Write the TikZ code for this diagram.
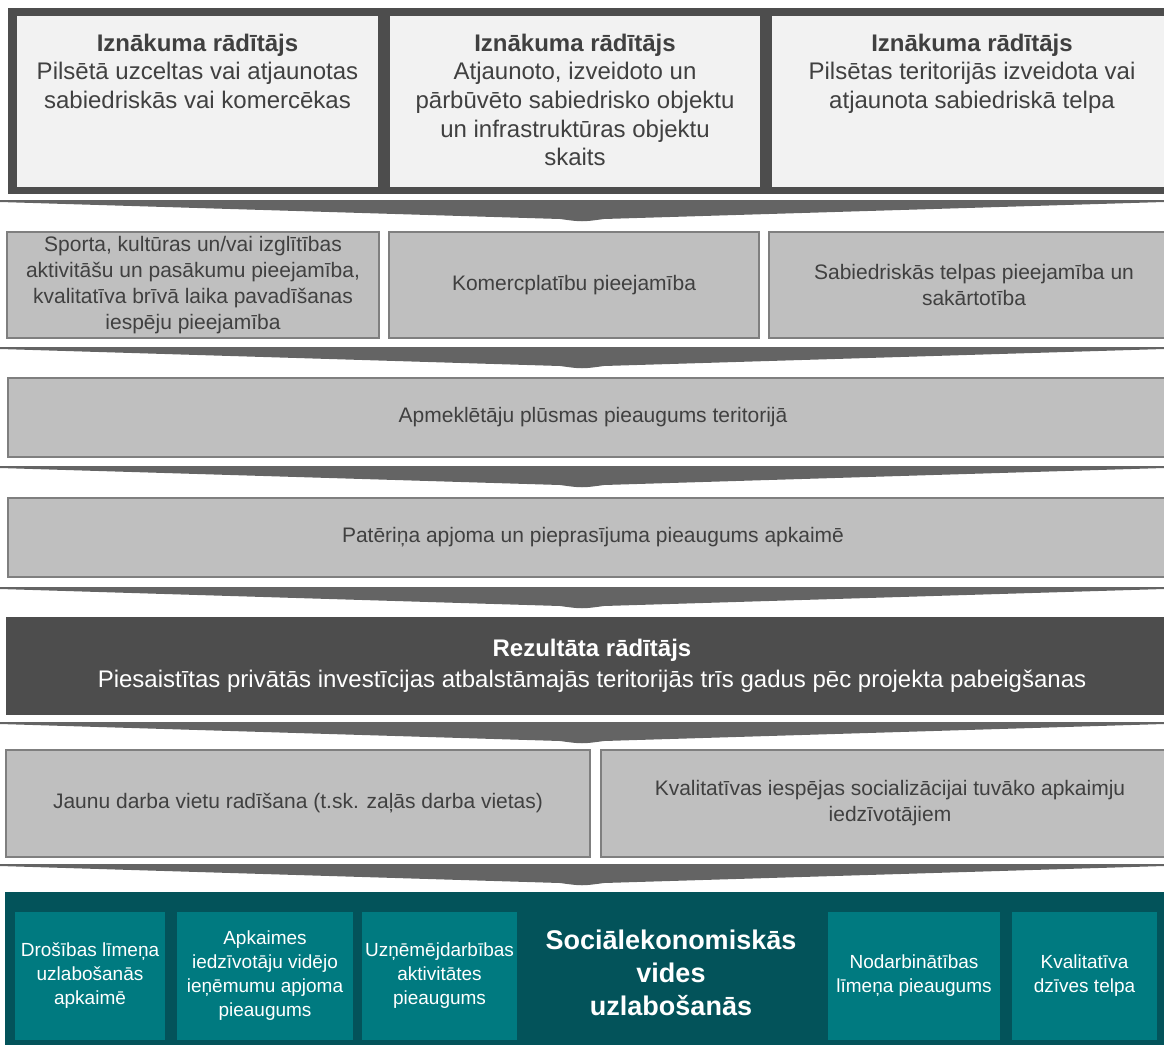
\documentclass[tikz,border=0pt]{standalone}
\usepackage{fontspec}
\setmainfont{Liberation Sans}
\usetikzlibrary{positioning}
\definecolor{framegray}{HTML}{4D4D4D}
\definecolor{lightbox}{HTML}{F2F2F2}
\definecolor{midbox}{HTML}{BFBFBF}
\definecolor{midline}{HTML}{7F7F7F}
\definecolor{txtgray}{HTML}{404040}
\definecolor{chevgray}{HTML}{646464}
\definecolor{tealdark}{HTML}{03535A}
\definecolor{teallight}{HTML}{007A80}
\newcommand{\chev}[1]{\fill[chevfill] (0,#1) -- (1180,#1) -- (1164,#1+2) -- (604,#1+19) .. controls (582,#1+22) .. (560,#1+19) -- (0,#1+2) -- cycle;}

\begin{document}
\begin{tikzpicture}[x=0.5pt, y=-0.5pt, node distance=6pt, inner sep=0pt, outer sep=0pt,
  frame/.style = {fill=framegray, anchor=north west},
  outbox/.style = {fill=lightbox, minimum height=85.5pt},
  outtxt/.style = {text=txtgray, align=center, font=\fontsize{12}{14.3}\selectfont},
  effbox/.style = {fill=midbox, draw=midline, line width=0.8pt, text=txtgray, align=center, font=\fontsize{10.5}{13}\selectfont},
  resbox/.style = {fill=framegray, text=white, align=center, anchor=north west, font=\fontsize{12}{15.5}\selectfont},
  socbox/.style = {fill=teallight, text=white, align=center, anchor=north west, minimum height=64pt, font=\fontsize{9.5}{12}\selectfont},
  chevfill/.style = {fill=chevgray}]
\useasboundingbox (0,0) rectangle (1164,1045);

\node[frame, minimum width=586pt, minimum height=93pt] (fr) at (8,8) {};
\node[outbox, anchor=north west, minimum width=180.5pt] (o1) at (17,16) {};
\node[outbox, minimum width=185pt] (o2) [right=of o1] {};
\node[outbox, minimum width=200pt] (o3) [right=of o2] {};
\node[outtxt, below=9pt of o1.north] (t1) {\textbf{Iznākuma rādītājs}\\Pilsētā uzceltas vai atjaunotas\\sabiedriskās vai komercēkas};
\node[outtxt, below=9pt of o2.north] (t2) {\textbf{Iznākuma rādītājs}\\Atjaunoto, izveidoto un\\pārbūvēto sabiedrisko objektu\\un infrastruktūras objektu\\skaits};
\node[outtxt, below=9pt of o3.north] (t3) {\textbf{Iznākuma rādītājs}\\Pilsētas teritorijās izveidota vai\\atjaunota sabiedriskā telpa};

\chev{200}
\node[effbox, anchor=north west, minimum width=186pt, minimum height=53pt] (e1) at (7,232) {Sporta, kultūras un/vai izglītības\\aktivitāšu un pasākumu pieejamība,\\kvalitatīva brīvā laika pavadīšanas\\iespēju pieejamība};
\node[effbox, minimum width=185pt, minimum height=53pt] (e2) [right=5pt of e1] {Komercplatību pieejamība};
\node[effbox, minimum width=205pt, minimum height=53pt] (e3) [right=5pt of e2] {Sabiedriskās telpas pieejamība un\\sakārtotība};

\chev{347}
\node[effbox, anchor=north west, minimum width=585pt, minimum height=39.5pt] (f) at (8,378) {Apmeklētāju plūsmas pieaugums teritorijā};

\chev{466}
\node[effbox, anchor=north west, minimum width=585pt, minimum height=39.5pt] (g) at (8,498) {Patēriņa apjoma un pieprasījuma pieaugums apkaimē};

\chev{587}
\node[resbox, minimum width=586pt, minimum height=49pt] (r) at (6,617) {\textbf{Rezultāta rādītājs}\\Piesaistītas privātās investīcijas atbalstāmajās teritorijās trīs gadus pēc projekta pabeigšanas};

\chev{722}
\node[effbox, anchor=north west, minimum width=292pt, minimum height=53.5pt] (j1) at (6,750) {Jaunu darba vietu radīšana (t.sk. zaļās darba vietas)};
\node[effbox, minimum width=289pt, minimum height=53.5pt] (j2) [right=5.5pt of j1] {Kvalitatīvas iespējas socializācijai tuvāko apkaimju\\iedzīvotājiem};

\chev{864}
\node[frame, fill=tealdark, minimum width=587.5pt, minimum height=76.5pt] (b) at (5,892) {};
\node[socbox, minimum width=75pt] (d1) at (15,912) {Drošības līmeņa\\uzlabošanās\\apkaimē};
\node[socbox, minimum width=88pt] (d2) at (177,912) {Apkaimes\\iedzīvotāju vidējo\\ieņēmumu apjoma\\pieaugums};
\node[socbox, minimum width=77.5pt] (d3) at (362,912) {Uzņēmējdarbības\\aktivitātes\\pieaugums};
\node[text=white, align=center, font=\bfseries\fontsize{13.5}{16.5}\selectfont] (soc) at (671,973) {Sociālekonomiskās\\vides\\uzlabošanās};
\node[socbox, minimum width=86pt] (d4) at (828,912) {Nodarbinātības\\līmeņa pieaugums};
\node[socbox, minimum width=72.5pt] (d5) at (1012,912) {Kvalitatīva\\dzīves telpa};
\end{tikzpicture}
\end{document}
